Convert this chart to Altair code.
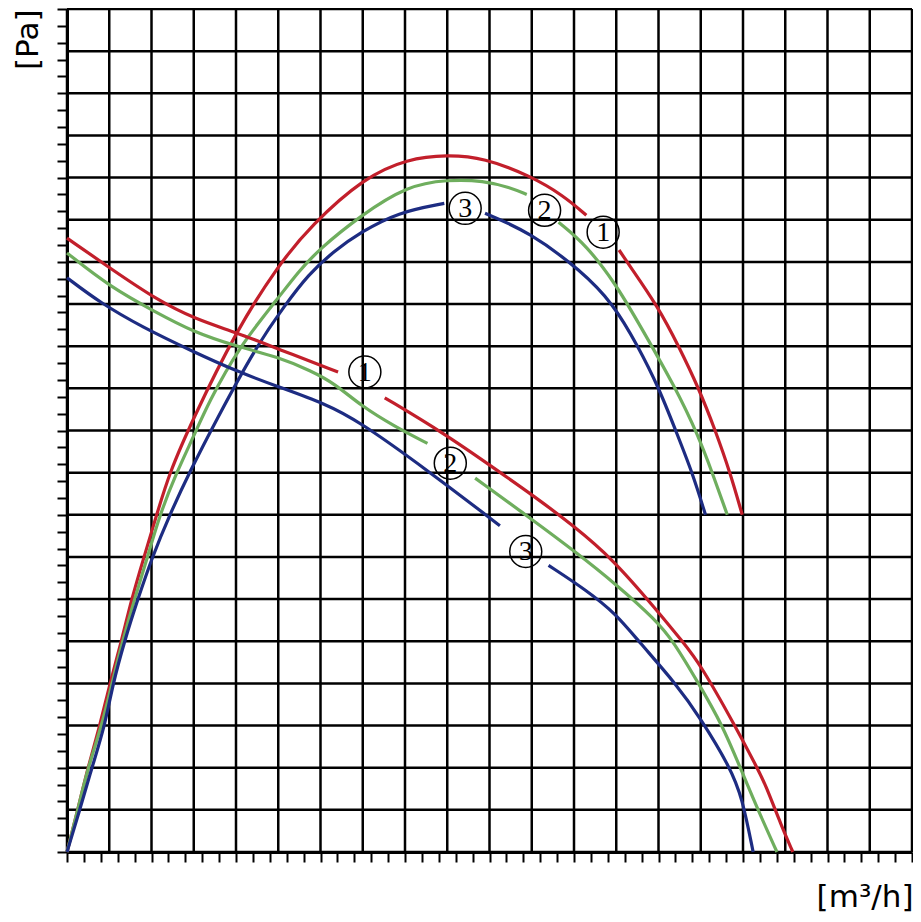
import altair as alt
import pandas as pd

# ---------------- data ----------------
# gridlines every 5 units, ticks every 2 units on a 0..100 frame
grid_vals = list(range(0, 101, 5))
tick_vals = list(range(0, 101, 2))

# rising curves (two segments each, gap at the circled label)
red_rise_x1 = [0, 1.29, 2.47, 3.88, 5.05, 6.46, 7.64, 9.17, 10.58, 12.10, 14.81, 19.98, 25.03, 28.91, 35.14, 40.31, 45.0, 49.35, 54.76, 58.75, 61.46]
red_rise_y1 = [0, 5.06, 10.0, 14.94, 19.88, 25.06, 30.0, 35.18, 39.88, 44.94, 51.18, 61.76, 69.65, 74.35, 80.0, 82.24, 82.71, 82.35, 80.24, 77.88, 75.53]
red_rise_x2 = [65.33, 66.51, 69.92, 72.39, 74.74, 76.73, 78.50, 79.91]
red_rise_y2 = [71.41, 69.65, 64.71, 60.0, 55.06, 50.0, 44.94, 40.0]

green_rise_x1 = [0, 1.29, 2.47, 4.11, 5.29, 6.58, 7.99, 9.52, 10.93, 12.93, 15.04, 16.69, 20.33, 25.03, 27.38, 29.73, 34.78, 40.31, 45.0, 49.35, 52.41, 54.41]
green_rise_y1 = [0, 5.06, 10.0, 14.94, 19.88, 25.06, 30.0, 34.94, 39.88, 44.94, 49.41, 53.18, 59.88, 65.76, 68.82, 71.41, 75.53, 79.06, 79.76, 79.65, 78.82, 78.0]
green_rise_x2 = [58.17, 61.46, 64.98, 67.33, 72.03, 74.74, 76.38, 78.14]
green_rise_y2 = [74.71, 72.0, 67.29, 63.3, 55.06, 49.29, 44.94, 40.0]

blue_rise_x1 = [0, 1.53, 2.94, 4.47, 5.41, 6.82, 8.34, 10.11, 12.10, 14.5, 17.63, 22.33, 25.85, 28.55, 31.6, 34.78, 39.13, 44.65]
blue_rise_y1 = [0, 5.06, 10.0, 14.94, 19.88, 25.06, 29.88, 35.06, 39.88, 45.06, 51.18, 59.88, 64.94, 68.5, 71.3, 73.53, 75.88, 76.94]
blue_rise_x2 = [49.47, 54.76, 60.87, 64.63, 67.57, 70.04, 72.03, 74.03, 75.56]
blue_rise_y2 = [75.76, 73.53, 68.94, 65.06, 60.0, 55.06, 50.0, 44.94, 40.0]

# falling curves
red_fall_x1 = [0, 5.05, 10.58, 15.28, 19.98, 25.03, 32.08]
red_fall_y1 = [72.82, 69.29, 65.53, 63.18, 61.65, 59.65, 56.94]
red_fall_x2 = [37.6, 44.65, 50.88, 55.23, 59.93, 64.63, 69.68, 72.86, 74.97, 79.08, 81.67, 82.61, 84.61, 85.9]
red_fall_y2 = [53.88, 49.65, 45.29, 42.24, 38.71, 34.71, 28.82, 24.94, 22.24, 14.94, 10.0, 8.12, 2.94, 0]

green_fall_x1 = [0, 5.05, 10.58, 14.81, 19.98, 25.03, 28.9, 31.73, 34.78, 38.78, 42.66]
green_fall_y1 = [71.06, 67.06, 64.0, 61.76, 60.0, 58.71, 57.06, 55.53, 52.94, 50.47, 48.47]
green_fall_x2 = [48.3, 54.76, 60.28, 64.98, 69.68, 71.8, 74.74, 77.56, 79.67, 81.79, 84.02]
green_fall_y2 = [44.35, 39.65, 35.53, 31.76, 27.53, 24.94, 20.0, 15.06, 10.0, 4.94, 0]

blue_fall_x1 = [0, 3.88, 8.93, 14.81, 19.98, 25.03, 30.55, 34.43, 42.66, 51.23]
blue_fall_y1 = [68.12, 65.18, 62.24, 59.41, 57.06, 55.18, 53.18, 51.18, 45.29, 38.71]
blue_fall_x2 = [56.99, 61.46, 64.98, 67.69, 72.03, 74.97, 78.5, 79.9, 81.2]
blue_fall_y2 = [34.0, 31.06, 28.24, 24.94, 20.0, 15.88, 10.0, 6.47, 0]

# circled curve labels
label_x = [35.25, 45.36, 54.29, 47.12, 56.52, 63.45]
label_y = [56.94, 46.12, 35.65, 76.35, 76.12, 73.53]
label_t = ["1", "2", "3", "3", "2", "1"]

series_names = ["1", "2", "3"]
series_colors = ["#c21f2b", "#6fae5e", "#1d2c82"]

# ---------------- tables ----------------
segments = [
    ("1", "r1", red_rise_x1, red_rise_y1), ("1", "r2", red_rise_x2, red_rise_y2),
    ("2", "g1", green_rise_x1, green_rise_y1), ("2", "g2", green_rise_x2, green_rise_y2),
    ("3", "b1", blue_rise_x1, blue_rise_y1), ("3", "b2", blue_rise_x2, blue_rise_y2),
    ("1", "rf1", red_fall_x1, red_fall_y1), ("1", "rf2", red_fall_x2, red_fall_y2),
    ("2", "gf1", green_fall_x1, green_fall_y1), ("2", "gf2", green_fall_x2, green_fall_y2),
    ("3", "bf1", blue_fall_x1, blue_fall_y1), ("3", "bf2", blue_fall_x2, blue_fall_y2),
]
rows = []
for s, seg, xs_, ys_ in segments:
    for i, (x, y) in enumerate(zip(xs_, ys_)):
        rows.append({"series": s, "seg": seg, "x": x, "y": y, "order": i})
curves = pd.DataFrame(rows)
labels = pd.DataFrame({"x": label_x, "y": label_y, "t": label_t})
grid = pd.DataFrame({"v": grid_vals})

W, H = 845, 843
xs = alt.Scale(domain=[0, 100], nice=False, zero=False)
ys = alt.Scale(domain=[0, 100], nice=False, zero=False)

x_axis = alt.Axis(values=tick_vals, tickCount=len(tick_vals), labels=False, labelOverlap=False,
                  grid=False, tickSize=10, tickWidth=2,
                  tickColor="black", domainColor="black", domainWidth=3,
                  title="[m³/h]", titleFont="DejaVu Sans", titleFontSize=31,
                  titleFontWeight="normal", titleColor="black", titleAlign="right",
                  titleBaseline="alphabetic", titleX=W + 1, titleY=54)
y_axis = alt.Axis(values=tick_vals, tickCount=len(tick_vals), labels=False, labelOverlap=False,
                  grid=False, tickSize=10, tickWidth=2,
                  tickColor="black", domainColor="black", domainWidth=3,
                  title="[Pa]", titleFont="DejaVu Sans", titleFontSize=31,
                  titleFontWeight="normal", titleColor="black", titleAngle=270,
                  titleAlign="right", titleBaseline="middle", titleX=-39, titleY=0)

X = lambda f: alt.X(f, scale=xs, axis=x_axis)
Y = lambda f: alt.Y(f, scale=ys, axis=y_axis)

vgrid = alt.Chart(grid).mark_rule(color="black", strokeWidth=2.5).encode(x=X("v:Q"))
hgrid = alt.Chart(grid).mark_rule(color="black", strokeWidth=2.5).encode(y=Y("v:Q"))

lines = alt.Chart(curves).mark_line(strokeWidth=3.2, interpolate="basis").encode(
    x=X("x:Q"),
    y=Y("y:Q"),
    color=alt.Color("series:N", scale=alt.Scale(domain=series_names, range=series_colors), legend=None),
    detail="seg:N",
    order="order:Q",
)

circles = alt.Chart(labels).mark_point(shape="circle", size=1024, filled=False,
                                         color="black", strokeWidth=1.5, opacity=1).encode(
    x=X("x:Q"), y=Y("y:Q"))
digits = alt.Chart(labels).mark_text(font="Liberation Serif", fontSize=28, baseline="middle",
                                      align="center", color="black", dy=1).encode(
    x=X("x:Q"), y=Y("y:Q"), text="t:N")

chart = alt.layer(vgrid, hgrid, lines, circles, digits).properties(
    width=W, height=H,
    autosize=alt.AutoSizeParams(type="none"),
    padding={"left": 59, "top": 1, "right": 1, "bottom": 62},
).configure_view(stroke=None)

chart.save("out.html", embed_options={"renderer": "svg", "actions": False})
